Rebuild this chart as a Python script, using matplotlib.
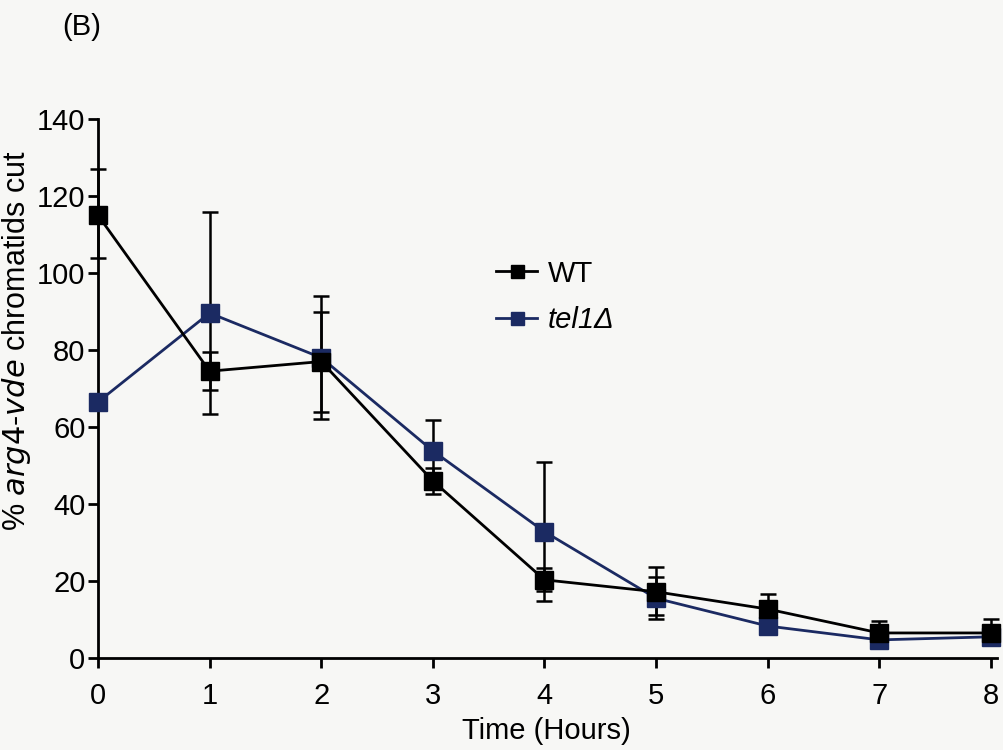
import numpy as np
import matplotlib.pyplot as plt

plt.rcParams['font.family'] = ['Liberation Sans', 'DejaVu Sans']

# time points (hours)
hours = [0, 1, 2, 3, 4, 5, 6, 7, 8]

# WT
wt = [115, 74.5, 77, 46, 20.3, 17.2, 12.7, 6.5, 6.5]
wt_err_lo = [11, 5, 13, 3.3, 3, 6, 4, 3, 3]
wt_err_hi = [12, 5, 13, 3.3, 3, 6.5, 4, 3, 3.5]

# tel1 delta
tel1 = [66.5, 89.6, 78, 53.8, 32.8, 15.5, 8.3, 4.7, 5.5]
tel1_err = [0, 26.3, 16, 8, 18, 5.5, 2, 2, 2]

navy = '#1b2a62'
bg = '#f7f7f5'

fig = plt.figure(figsize=(10.04, 7.5), dpi=100, facecolor=bg)
ax = fig.add_axes([0.0976, 0.1227, 0.895, 0.7186])
ax.set_facecolor(bg)

# error bars
ax.errorbar(hours, tel1, yerr=tel1_err, fmt='none', ecolor='black',
            elinewidth=1.8, capsize=6, capthick=1.8, clip_on=False, zorder=2)
ax.errorbar(hours, wt, yerr=[wt_err_lo, wt_err_hi], fmt='none', ecolor='black',
            elinewidth=1.8, capsize=6, capthick=1.8, clip_on=False, zorder=2)

# lines + markers
l_tel1, = ax.plot(hours, tel1, color=navy, lw=2, marker='s', ms=13,
                  mfc=navy, mec=navy, clip_on=False, zorder=3)
l_wt, = ax.plot(hours, wt, color='black', lw=2, marker='s', ms=13,
                mfc='black', mec='black', clip_on=False, zorder=4)

ax.set_xlim(0, 8.05)
ax.set_ylim(0, 140)
ax.set_xticks(hours)
ax.set_yticks(np.arange(0, 141, 20))
ax.tick_params(labelsize=21, width=2, length=7, direction='out')
ax.tick_params(axis='x', pad=10)
ax.tick_params(axis='y', pad=2)
for s in ['top', 'right']:
    ax.spines[s].set_visible(False)
for s in ['left', 'bottom']:
    ax.spines[s].set_linewidth(2)

ax.set_xlabel('Time (Hours)', fontsize=21)
ax.xaxis.set_label_coords(0.4985, -0.11)
ax.set_ylabel(r'% $\it{arg4}$-$\it{vde}$ chromatids cut', fontsize=22)
ax.yaxis.set_label_coords(-0.072, 0.588)

leg = fig.legend([l_wt, l_tel1], ['WT', 'tel1Δ'], loc='upper left',
                 bbox_to_anchor=(0.468, 0.689), frameon=False, fontsize=21,
                 handlelength=1.4, handletextpad=0.38, labelspacing=0.65,
                 markerscale=0.72)
leg.get_texts()[1].set_style('italic')

fig.text(0.062, 0.964, '(B)', fontsize=21, va='center')

fig.savefig('out.png', dpi=100, facecolor=fig.get_facecolor())
